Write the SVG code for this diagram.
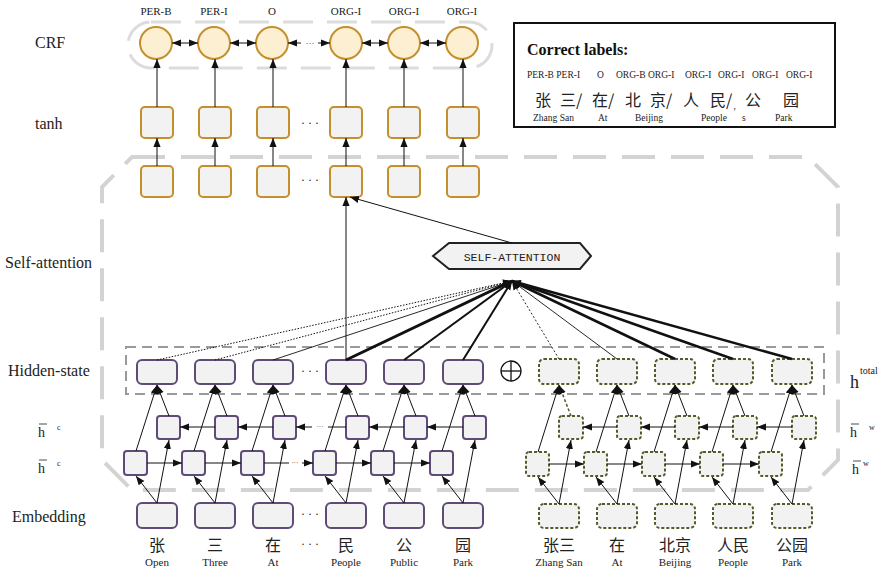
<svg xmlns="http://www.w3.org/2000/svg" width="882" height="573" viewBox="0 0 882 573">
<style>
.lbl{font-family:"Liberation Serif",serif;font-size:16px;fill:#222}
.tag{font-family:"Liberation Serif",serif;font-size:11px;fill:#222;text-anchor:middle}
.en{font-family:"Liberation Serif",serif;font-size:11px;fill:#222;text-anchor:middle}
.zh{font-family:"Noto Sans CJK SC",sans-serif;font-size:16px;fill:#222;text-anchor:middle}
.dots{font-family:"Liberation Serif",serif;font-size:12px;fill:#222;text-anchor:middle}
.gold{fill:#f2f2f2;stroke:#c48f2c;stroke-width:2}
.circ{fill:#fdf0d2;stroke:#c48f2c;stroke-width:2}
.pur{fill:#f2f2f2;stroke:#5f4b78;stroke-width:2}
.olv{fill:#f2f2f2;stroke:#565b2b;stroke-width:2;stroke-dasharray:3 2}
.ln{stroke:#111;stroke-width:1;fill:none}
.arr{stroke:#111;stroke-width:1;fill:none;marker-end:url(#ah)}
</style>
<defs>
<marker id="ah" viewBox="0 0 10 10" refX="10" refY="5" markerWidth="9" markerHeight="9" markerUnits="userSpaceOnUse" orient="auto-start-reverse"><path d="M0,1 L10,5 L0,9 z" fill="#111"/></marker>
</defs>
<rect width="882" height="573" fill="#fff"/>

<!-- background frames -->
<g id="frames">
<rect x="128" y="22" width="364" height="46" rx="23" fill="none" stroke="#dcdcdc" stroke-width="3" stroke-dasharray="30 14"/>
<path d="M132,157 L808,157 L838,187 L838,460 L808,490 L132,490 L102,460 L102,187 Z" fill="none" stroke="#d3d3d3" stroke-width="4" stroke-dasharray="33 16"/>
<rect x="126" y="347" width="698" height="47" fill="none" stroke="#9a9a9a" stroke-width="2" stroke-dasharray="10 6"/>
</g>

<!-- row labels -->
<g id="row-labels">
<text class="lbl" x="35" y="48">CRF</text>
<text class="lbl" x="35" y="129">tanh</text>
<text class="lbl" x="5" y="268">Self-attention</text>
<text class="lbl" x="8" y="376">Hidden-state</text>
<text class="lbl" x="12" y="522">Embedding</text>
<text class="lbl" x="38" y="437" style="font-size:14px">h</text>
<line x1="39" y1="424" x2="47" y2="424" stroke="#222" stroke-width="0.8"/>
<text x="57" y="430" style="font-family:'Liberation Serif',serif;font-size:8px;fill:#222">c</text>
<text class="lbl" x="38" y="473" style="font-size:14px">h</text>
<line x1="39" y1="460" x2="47" y2="460" stroke="#222" stroke-width="0.8"/>
<text x="57" y="466" style="font-family:'Liberation Serif',serif;font-size:8px;fill:#222">c</text>
<text class="lbl" x="850" y="437" style="font-size:14px">h</text>
<line x1="851" y1="424" x2="859" y2="424" stroke="#222" stroke-width="0.8"/>
<text x="869" y="430" style="font-family:'Liberation Serif',serif;font-size:8px;fill:#222">w</text>
<text class="lbl" x="852" y="474" style="font-size:14px">h</text>
<line x1="853" y1="461" x2="861" y2="461" stroke="#222" stroke-width="0.8"/>
<text x="863" y="466" style="font-family:'Liberation Serif',serif;font-size:8px;fill:#222">w</text>
<text class="lbl" x="850" y="388" style="font-size:18px">h</text>
<text x="860" y="374" style="font-family:'Liberation Serif',serif;font-size:10px;fill:#222">total</text>
</g>

<!-- CRF -->
<g id="crf">
<text class="tag" x="156" y="15">PER-B</text>
<text class="tag" x="214" y="15">PER-I</text>
<text class="tag" x="272" y="15">O</text>
<text class="tag" x="346" y="15">ORG-I</text>
<text class="tag" x="404" y="15">ORG-I</text>
<text class="tag" x="462" y="15">ORG-I</text>
<circle class="circ" cx="156" cy="43" r="16"/>
<circle class="circ" cx="214" cy="43" r="16"/>
<circle class="circ" cx="272" cy="43" r="16"/>
<circle class="circ" cx="346" cy="43" r="16"/>
<circle class="circ" cx="404" cy="43" r="16"/>
<circle class="circ" cx="462" cy="43" r="16"/>
<text class="dots" x="310" y="46" style="font-size:9px">···</text>
</g>

<!-- tanh row -->
<g id="tanh">
<rect class="gold" x="141" y="107" width="32" height="31" rx="4"/>
<rect class="gold" x="199" y="107" width="32" height="31" rx="4"/>
<rect class="gold" x="257" y="107" width="32" height="31" rx="4"/>
<rect class="gold" x="330" y="107" width="32" height="31" rx="4"/>
<rect class="gold" x="388" y="107" width="32" height="31" rx="4"/>
<rect class="gold" x="447" y="107" width="32" height="31" rx="4"/>
<text class="dots" x="310" y="127">· · ·</text>
</g>

<!-- attention output row -->
<g id="att-out">
<rect class="gold" x="141" y="166" width="32" height="31" rx="4"/>
<rect class="gold" x="199" y="166" width="32" height="31" rx="4"/>
<rect class="gold" x="257" y="166" width="32" height="31" rx="4"/>
<rect class="gold" x="330" y="166" width="32" height="31" rx="4"/>
<rect class="gold" x="388" y="166" width="32" height="31" rx="4"/>
<rect class="gold" x="447" y="166" width="32" height="31" rx="4"/>
<text class="dots" x="310" y="184">· · ·</text>
</g>

<!-- self attention node -->
<g id="self-attention">
<polygon points="433,256 449,243 580,243 591,256 580,269 449,269" fill="#f2f2f2" stroke="#222" stroke-width="2"/>
<text x="512" y="261" text-anchor="middle" style="font-family:'Liberation Mono','DejaVu Sans Mono',monospace;font-size:11.5px;fill:#222">SELF-ATTENTION</text>
</g>

<!-- hidden state -->
<g id="hidden">
<rect class="pur" x="137" y="360" width="40" height="24" rx="5"/>
<rect class="pur" x="195" y="360" width="40" height="24" rx="5"/>
<rect class="pur" x="253" y="360" width="40" height="24" rx="5"/>
<rect class="pur" x="326" y="360" width="40" height="24" rx="5"/>
<rect class="pur" x="384" y="360" width="40" height="24" rx="5"/>
<rect class="pur" x="443" y="360" width="40" height="24" rx="5"/>
<text class="dots" x="310" y="375">· · ·</text>
<rect class="olv" x="539" y="359" width="40" height="25" rx="5"/>
<rect class="olv" x="597" y="359" width="40" height="25" rx="5"/>
<rect class="olv" x="655" y="359" width="40" height="25" rx="5"/>
<rect class="olv" x="713" y="359" width="40" height="25" rx="5"/>
<rect class="olv" x="772" y="359" width="40" height="25" rx="5"/>
<circle cx="511" cy="371" r="10" fill="none" stroke="#111" stroke-width="1.3"/>
<line x1="501" y1="371" x2="521" y2="371" stroke="#111" stroke-width="1.3"/>
<line x1="511" y1="361" x2="511" y2="381" stroke="#111" stroke-width="1.3"/>
</g>

<!-- char-level BiLSTM -->
<g id="lstm-char">
<rect class="pur" x="157" y="416" width="23" height="23" rx="3"/>
<rect class="pur" x="215" y="416" width="23" height="23" rx="3"/>
<rect class="pur" x="273" y="416" width="23" height="23" rx="3"/>
<rect class="pur" x="346" y="416" width="23" height="23" rx="3"/>
<rect class="pur" x="404" y="416" width="23" height="23" rx="3"/>
<rect class="pur" x="463" y="416" width="23" height="23" rx="3"/>
<rect class="pur" x="124" y="451" width="23" height="24" rx="3"/>
<rect class="pur" x="182" y="451" width="23" height="24" rx="3"/>
<rect class="pur" x="241" y="451" width="23" height="24" rx="3"/>
<rect class="pur" x="313" y="451" width="23" height="24" rx="3"/>
<rect class="pur" x="371" y="451" width="23" height="24" rx="3"/>
<rect class="pur" x="430" y="451" width="23" height="24" rx="3"/>
<text class="dots" x="295" y="465" style="font-size:7px">···</text>
<text class="dots" x="320" y="429" style="font-size:7px">···</text>
</g>

<!-- word-level BiLSTM -->
<g id="lstm-word">
<rect class="olv" x="559" y="416" width="24" height="23" rx="3"/>
<rect class="olv" x="617" y="416" width="24" height="23" rx="3"/>
<rect class="olv" x="675" y="416" width="24" height="23" rx="3"/>
<rect class="olv" x="733" y="416" width="24" height="23" rx="3"/>
<rect class="olv" x="792" y="416" width="24" height="23" rx="3"/>
<rect class="olv" x="526" y="452" width="23" height="24" rx="3"/>
<rect class="olv" x="584" y="452" width="23" height="24" rx="3"/>
<rect class="olv" x="642" y="452" width="23" height="24" rx="3"/>
<rect class="olv" x="700" y="452" width="23" height="24" rx="3"/>
<rect class="olv" x="759" y="452" width="23" height="24" rx="3"/>
</g>

<!-- embeddings -->
<g id="embedding">
<rect class="pur" x="137" y="503" width="40" height="25" rx="5"/>
<rect class="pur" x="195" y="503" width="40" height="25" rx="5"/>
<rect class="pur" x="253" y="503" width="40" height="25" rx="5"/>
<rect class="pur" x="326" y="503" width="40" height="25" rx="5"/>
<rect class="pur" x="384" y="503" width="40" height="25" rx="5"/>
<rect class="pur" x="443" y="503" width="40" height="25" rx="5"/>
<text class="dots" x="310" y="518">· · ·</text>
<rect class="olv" x="539" y="504" width="40" height="24" rx="5"/>
<rect class="olv" x="597" y="504" width="40" height="24" rx="5"/>
<rect class="olv" x="655" y="504" width="40" height="24" rx="5"/>
<rect class="olv" x="713" y="504" width="40" height="24" rx="5"/>
<rect class="olv" x="772" y="504" width="40" height="24" rx="5"/>
<text class="zh" x="157" y="551">张</text>
<text class="zh" x="215" y="551">三</text>
<text class="zh" x="273" y="551">在</text>
<text class="dots" x="310" y="548">· · ·</text>
<text class="zh" x="346" y="551">民</text>
<text class="zh" x="404" y="551">公</text>
<text class="zh" x="463" y="551">园</text>
<text class="en" x="157" y="566">Open</text>
<text class="en" x="215" y="566">Three</text>
<text class="en" x="273" y="566">At</text>
<text class="en" x="346" y="566">People</text>
<text class="en" x="404" y="566">Public</text>
<text class="en" x="463" y="566">Park</text>
<text class="zh" x="559" y="551">张三</text>
<text class="zh" x="617" y="551">在</text>
<text class="zh" x="675" y="551">北京</text>
<text class="zh" x="733" y="551">人民</text>
<text class="zh" x="792" y="551">公园</text>
<text class="en" x="559" y="566">Zhang San</text>
<text class="en" x="617" y="566">At</text>
<text class="en" x="675" y="566">Beijing</text>
<text class="en" x="733" y="566">People</text>
<text class="en" x="792" y="566">Park</text>
</g>

<!-- correct labels box -->
<g id="correct-labels">
<rect x="514" y="23" width="321" height="104" fill="#fff" stroke="#111" stroke-width="2"/>
<text x="527" y="55" style="font-family:'Liberation Serif',serif;font-size:16px;font-weight:bold;fill:#111">Correct labels:</text>
<g style="font-family:'Liberation Serif',serif;font-size:9.5px;fill:#222">
<text x="527" y="78">PER-B PER-I</text>
<text x="597" y="78">O</text>
<text x="616" y="78">ORG-B ORG-I</text>
<text x="685" y="78">ORG-I</text>
<text x="718" y="78">ORG-I</text>
<text x="752" y="78">ORG-I</text>
<text x="786" y="78">ORG-I</text>
</g>
<g style="font-family:'Noto Sans CJK SC',sans-serif;font-size:16px;fill:#222">
<text x="535" y="106">张</text>
<text x="560" y="106">三/</text>
<text x="592" y="106">在/</text>
<text x="625" y="106">北</text>
<text x="650" y="106">京/</text>
<text x="683" y="106">人</text>
<text x="710" y="106">民/</text>
<text x="745" y="106">公</text>
<text x="783" y="106">园</text>
</g>
<g style="font-family:'Liberation Serif',serif;font-size:9.5px;fill:#222">
<text x="533" y="121">Zhang San</text>
<text x="598" y="121">At</text>
<text x="635" y="121">Beijing</text>
<text x="701" y="121">People</text>
<text x="733" y="115">’</text>
<text x="742" y="121">s</text>
<text x="775" y="121">Park</text>
</g>
</g>

<!-- connectors -->
<g id="connectors">
<!-- CRF links -->
<line class="ln" x1="172" y1="43" x2="198" y2="43" marker-start="url(#ah)" marker-end="url(#ah)"/>
<line class="ln" x1="230" y1="43" x2="256" y2="43" marker-start="url(#ah)" marker-end="url(#ah)"/>
<line class="ln" x1="288" y1="43" x2="301" y2="43" marker-start="url(#ah)"/>
<line class="ln" x1="318" y1="43" x2="330" y2="43" marker-end="url(#ah)"/>
<line class="ln" x1="362" y1="43" x2="388" y2="43" marker-start="url(#ah)" marker-end="url(#ah)"/>
<line class="ln" x1="420" y1="43" x2="446" y2="43" marker-start="url(#ah)" marker-end="url(#ah)"/>
<!-- tanh to CRF -->
<line class="arr" x1="157" y1="107" x2="157" y2="59"/>
<line class="arr" x1="215" y1="107" x2="215" y2="59"/>
<line class="arr" x1="273" y1="107" x2="273" y2="59"/>
<line class="arr" x1="346" y1="107" x2="346" y2="59"/>
<line class="arr" x1="404" y1="107" x2="404" y2="59"/>
<line class="arr" x1="463" y1="107" x2="463" y2="59"/>
<!-- attention out to tanh -->
<line class="arr" x1="157" y1="166" x2="157" y2="138"/>
<line class="arr" x1="215" y1="166" x2="215" y2="138"/>
<line class="arr" x1="273" y1="166" x2="273" y2="138"/>
<line class="arr" x1="346" y1="166" x2="346" y2="138"/>
<line class="arr" x1="404" y1="166" x2="404" y2="138"/>
<line class="arr" x1="463" y1="166" x2="463" y2="138"/>
<!-- residual and attention output -->
<line class="arr" x1="346" y1="360" x2="346" y2="197"/>
<line class="arr" x1="512" y1="243" x2="350" y2="197"/>
<!-- hidden to attention -->
<line x1="157" y1="360" x2="512" y2="281" stroke="#111" stroke-width="1" stroke-dasharray="1.5 1.5" marker-end="url(#ah)"/>
<line x1="215" y1="360" x2="512" y2="281" stroke="#111" stroke-width="1" stroke-dasharray="1.5 1.5" marker-end="url(#ah)"/>
<line x1="273" y1="360" x2="512" y2="281" stroke="#111" stroke-width="0.9" marker-end="url(#ah)"/>
<line x1="346" y1="360" x2="512" y2="281" stroke="#111" stroke-width="3" marker-end="url(#ah)"/>
<line x1="404" y1="360" x2="512" y2="281" stroke="#111" stroke-width="2" marker-end="url(#ah)"/>
<line x1="463" y1="360" x2="512" y2="281" stroke="#111" stroke-width="2" marker-end="url(#ah)"/>
<line x1="559" y1="359" x2="512" y2="281" stroke="#111" stroke-width="0.9" stroke-dasharray="2 2" marker-end="url(#ah)"/>
<line x1="617" y1="359" x2="512" y2="281" stroke="#111" stroke-width="0.9" marker-end="url(#ah)"/>
<line x1="675" y1="359" x2="512" y2="281" stroke="#111" stroke-width="2.5" marker-end="url(#ah)"/>
<line x1="733" y1="359" x2="512" y2="281" stroke="#111" stroke-width="2.5" marker-end="url(#ah)"/>
<line x1="792" y1="359" x2="512" y2="281" stroke="#111" stroke-width="2.5" marker-end="url(#ah)"/>
<!-- char LSTM: embedding to cells -->
<path class="arr" d="M157,503 L136,476"/><path class="arr" d="M157,503 L169,440"/>
<path class="arr" d="M215,503 L194,476"/><path class="arr" d="M215,503 L227,440"/>
<path class="arr" d="M273,503 L252,476"/><path class="arr" d="M273,503 L285,440"/>
<path class="arr" d="M346,503 L325,476"/><path class="arr" d="M346,503 L358,440"/>
<path class="arr" d="M404,503 L383,476"/><path class="arr" d="M404,503 L416,440"/>
<path class="arr" d="M463,503 L442,476"/><path class="arr" d="M463,503 L475,440"/>
<!-- char LSTM: cells to hidden -->
<path class="arr" d="M136,451 L157,385"/><path class="arr" d="M169,416 L157,385"/>
<path class="arr" d="M194,451 L215,385"/><path class="arr" d="M227,416 L215,385"/>
<path class="arr" d="M252,451 L273,385"/><path class="arr" d="M285,416 L273,385"/>
<path class="arr" d="M325,451 L346,385"/><path class="arr" d="M358,416 L346,385"/>
<path class="arr" d="M383,451 L404,385"/><path class="arr" d="M416,416 L404,385"/>
<path class="arr" d="M442,451 L463,385"/><path class="arr" d="M475,416 L463,385"/>
<!-- char LSTM forward chain -->
<line class="arr" x1="147" y1="463" x2="182" y2="463"/>
<line class="arr" x1="205" y1="463" x2="241" y2="463"/>
<line class="ln" x1="264" y1="463" x2="289" y2="463"/>
<line class="arr" x1="302" y1="463" x2="313" y2="463"/>
<line class="arr" x1="336" y1="463" x2="371" y2="463"/>
<line class="arr" x1="394" y1="463" x2="430" y2="463"/>
<!-- char LSTM backward chain -->
<line class="arr" x1="215" y1="427" x2="180" y2="427"/>
<line class="arr" x1="273" y1="427" x2="238" y2="427"/>
<line class="arr" x1="312" y1="427" x2="296" y2="427"/>
<line class="ln" x1="328" y1="427" x2="346" y2="427"/>
<line class="arr" x1="404" y1="427" x2="369" y2="427"/>
<line class="arr" x1="463" y1="427" x2="427" y2="427"/>
<!-- word LSTM: embedding to cells -->
<path class="arr" d="M559,504 L538,477"/><path class="arr" d="M559,504 L571,440"/>
<path class="arr" d="M617,504 L596,477"/><path class="arr" d="M617,504 L629,440"/>
<path class="arr" d="M675,504 L654,477"/><path class="arr" d="M675,504 L687,440"/>
<path class="arr" d="M733,504 L712,477"/><path class="arr" d="M733,504 L745,440"/>
<path class="arr" d="M792,504 L771,477"/><path class="arr" d="M792,504 L804,440"/>
<!-- word LSTM: cells to hidden -->
<path class="arr" d="M538,452 L559,385"/><path d="M571,416 L559,385" stroke="#565b2b" stroke-width="1.5" stroke-dasharray="3 2" fill="none" marker-end="url(#ah)"/>
<path class="arr" d="M596,452 L617,385"/><path class="arr" d="M629,416 L617,385"/>
<path class="arr" d="M654,452 L675,385"/><path class="arr" d="M687,416 L675,385"/>
<path class="arr" d="M712,452 L733,385"/><path class="arr" d="M745,416 L733,385"/>
<path class="arr" d="M771,452 L792,385"/><path class="arr" d="M804,416 L792,385"/>
<!-- word LSTM chains -->
<line class="arr" x1="549" y1="464" x2="584" y2="464"/>
<line class="arr" x1="607" y1="464" x2="642" y2="464"/>
<line class="arr" x1="665" y1="464" x2="700" y2="464"/>
<line class="arr" x1="723" y1="464" x2="759" y2="464"/>
<line class="arr" x1="617" y1="427" x2="583" y2="427"/>
<line class="arr" x1="675" y1="427" x2="641" y2="427"/>
<line class="arr" x1="733" y1="427" x2="699" y2="427"/>
<line class="arr" x1="792" y1="427" x2="757" y2="427"/>
</g>
</svg>
